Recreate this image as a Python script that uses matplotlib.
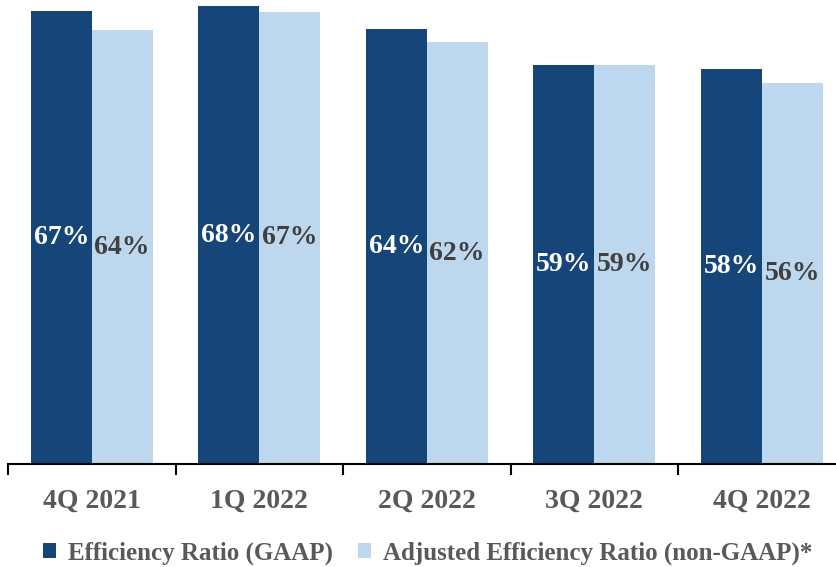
import numpy as np
import matplotlib.pyplot as plt
from matplotlib.ticker import FixedLocator

quarters = ["4Q 2021", "1Q 2022", "2Q 2022", "3Q 2022", "4Q 2022"]
gaap = [67.0, 67.7, 64.3, 59.0, 58.4]
adjusted = [64.2, 66.9, 62.4, 59.0, 56.4]

dark_blue = "#16457a"
light_blue = "#bdd7ee"
grey = "#595959"

plt.rcParams["font.family"] = ["Liberation Serif", "DejaVu Serif"]
plt.rcParams["font.weight"] = "bold"

fig = plt.figure(figsize=(8.37, 5.67), dpi=100)
ax = fig.add_axes([8 / 837, 103 / 567, 837.5 / 837, 464 / 567])

x = np.arange(len(quarters))
w = 0.364
bars1 = ax.bar(x - w / 2, gaap, w, color=dark_blue, label="Efficiency Ratio (GAAP)")
bars2 = ax.bar(x + w / 2, adjusted, w, color=light_blue,
               label="Adjusted Efficiency Ratio (non-GAAP)*")

# value labels in the middle of each bar
for b, v in zip(bars1, gaap):
    ax.text(b.get_x() + b.get_width() / 2, v / 2, f"{v:.0f}%", ha="center",
            va="center", color="white", fontsize=20, fontweight="bold")
for b, v in zip(bars2, adjusted):
    ax.text(b.get_x() + b.get_width() / 2, v / 2, f"{v:.0f}%", ha="center",
            va="center", color="#404040", fontsize=20, fontweight="bold")

ax.set_xlim(-0.5, len(quarters) - 0.5)
ax.set_ylim(0, 68.64)
ax.set_yticks([])
for side in ["top", "right", "left"]:
    ax.spines[side].set_visible(False)
ax.spines["bottom"].set_linewidth(1.5)

# tick marks between categories, labels under each group
ax.set_xticks(x)
ax.set_xticklabels(quarters, fontsize=20, color=grey, fontweight="bold")
ax.tick_params(axis="x", which="major", length=0, pad=18)
ax.xaxis.set_minor_locator(FixedLocator(np.arange(-0.5, len(quarters), 1.0)))
ax.tick_params(axis="x", which="minor", length=8, width=1.5, color="black")

fig.legend(handles=[bars1, bars2], loc="center", bbox_to_anchor=(0.511, 14 / 567),
           ncol=2, frameon=False, fontsize=18, handlelength=0.5, handleheight=0.5,
           handletextpad=0.5, columnspacing=1.0, labelcolor=grey,
           borderpad=0)

fig.savefig("out.png", dpi=100)
